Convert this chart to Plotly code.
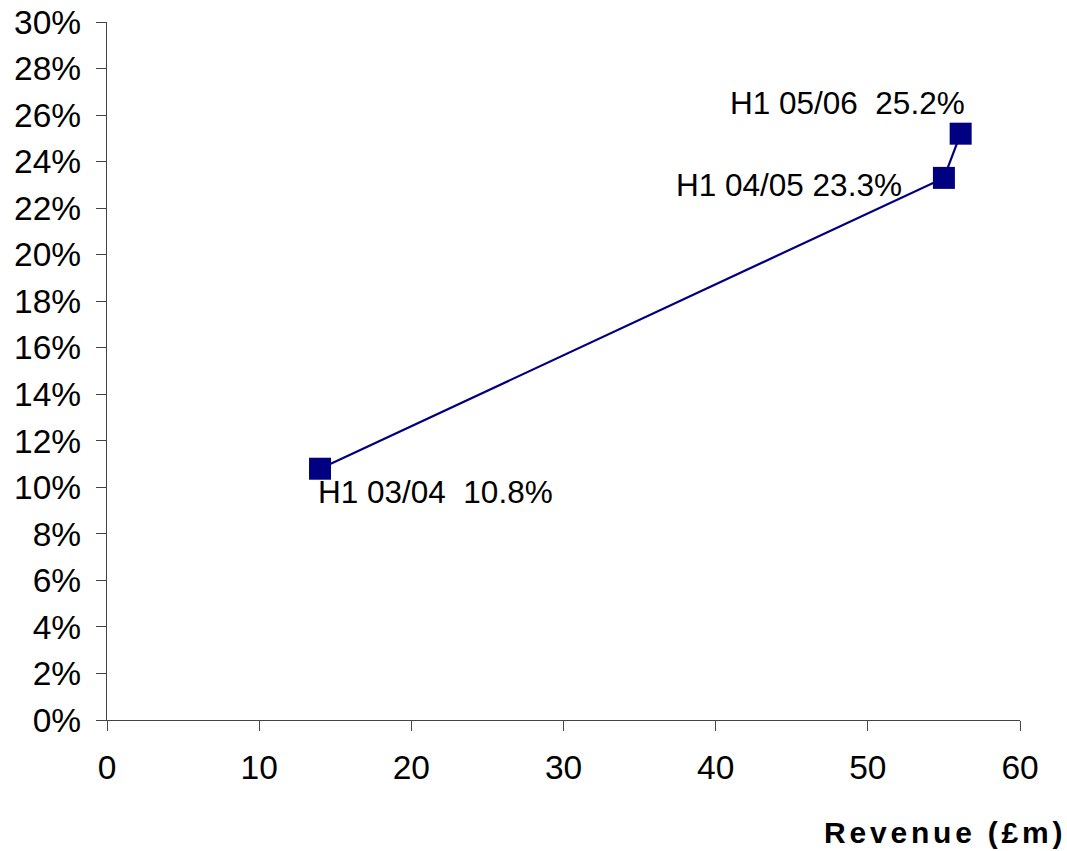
import plotly.graph_objects as go

# Half-year revenue (£m) against margin (%)
periods = ["H1 03/04", "H1 04/05", "H1 05/06"]
revenue = [14.0, 55.0, 56.1]
margin = [10.8, 23.3, 25.2]
label_gaps = ["\u00a0\u00a0", " ", "\u00a0\u00a0"]

x_ticks = [0, 10, 20, 30, 40, 50, 60]
y_ticks = list(range(0, 31, 2))

NAVY = "#000080"
FONT = "Liberation Sans, Arial, sans-serif"

fig = go.Figure()
fig.add_trace(go.Scatter(
    x=revenue,
    y=margin,
    mode="lines+markers",
    line=dict(color=NAVY, width=2.2),
    marker=dict(symbol="square", size=22, color=NAVY),
    showlegend=False,
    hoverinfo="skip",
))

# Point labels: (xanchor, xshift, yshift) per point
placements = [("left", -4.5, -23), ("right", -40, -7), ("right", 6, 30.5)]
for p, gap, xv, yv, (anchor, dx, dy) in zip(periods, label_gaps, revenue, margin, placements):
    fig.add_annotation(
        x=xv, y=yv, xref="x", yref="y",
        text=f"{p}{gap}{yv:.1f}%",
        showarrow=False,
        xanchor=anchor, yanchor="middle",
        xshift=dx, yshift=dy,
        font=dict(family=FONT, size=31.5, color="black"),
    )

# Axis title, bottom right
fig.add_annotation(
    x=1, y=0, xref="paper", yref="paper",
    text='<b><span style="letter-spacing:3.8px">Revenue (£m)</span></b>',
    showarrow=False,
    xanchor="right", yanchor="middle",
    xshift=48, yshift=-112.5,
    font=dict(family=FONT, size=30, color="black"),
)

axis_common = dict(
    showgrid=False,
    zeroline=False,
    showline=True,
    automargin=False,
    linecolor="#444444",
    linewidth=1.3,
    ticks="outside",
    tickcolor="#444444",
    tickwidth=1.3,
    ticklen=10,
    tickfont=dict(family=FONT, size=33.5, color="black"),
)

fig.update_xaxes(
    range=[0, 60],
    tickvals=x_ticks,
    ticktext=[str(v) for v in x_ticks],
    ticklabelstandoff=8,
    **axis_common,
)
fig.update_yaxes(
    range=[0, 30],
    tickvals=y_ticks,
    ticktext=[f"{v}%" for v in y_ticks],
    ticklabelstandoff=8,
    **axis_common,
)

fig.update_layout(
    width=1067,
    height=851,
    margin=dict(l=107, r=47, t=22, b=130.5),
    plot_bgcolor="white",
    paper_bgcolor="white",
    font=dict(family=FONT, color="black"),
)

fig.write_html("out.html")
